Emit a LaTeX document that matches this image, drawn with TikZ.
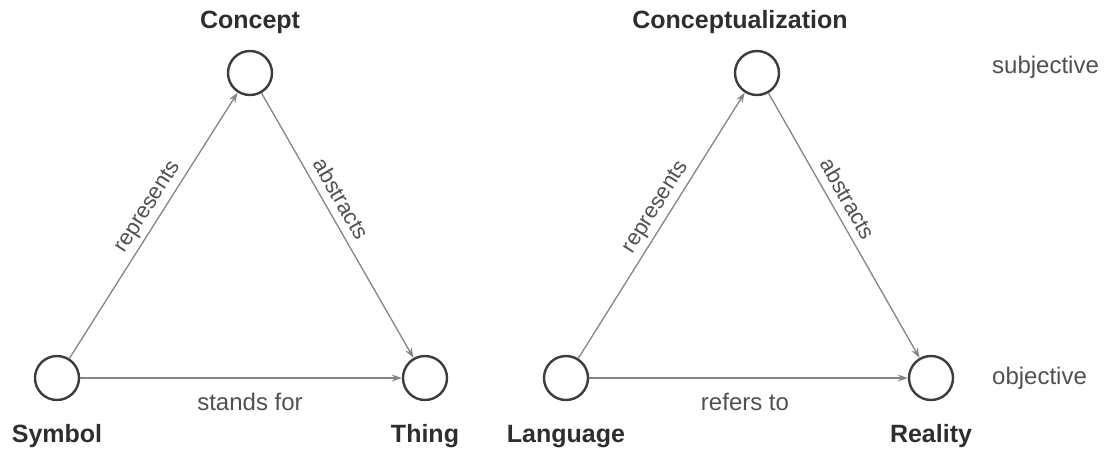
\documentclass[tikz,border=0pt]{standalone}
\usepackage{fontspec}
\setmainfont{Liberation Sans}
\usetikzlibrary{arrows.meta}
\definecolor{circcol}{HTML}{3C3C3C}
\definecolor{linecol}{HTML}{858585}
\definecolor{boldcol}{HTML}{2E2E2E}
\definecolor{txtcol}{HTML}{505050}
\tikzset{
  ball/.style={circle, draw=circcol, line width=2.4pt, minimum size=44pt, inner sep=0pt, fill=white},
  conn/.style={draw=linecol, line width=1.3pt, -{Stealth[length=10pt,width=7pt]}, shorten >=0pt},
  title/.style={font=\fontsize{25}{30}\selectfont\bfseries, text=boldcol, inner sep=0pt, anchor=base},
  plain/.style={font=\fontsize{24}{29}\selectfont, text=txtcol, inner sep=0pt, anchor=base},
  elab/.style={font=\fontsize{22}{26}\selectfont, text=txtcol, inner sep=3pt, sloped},
}
\begin{document}
\begin{tikzpicture}[x=1pt,y=-1pt]
\useasboundingbox (0,0) rectangle (1111,450);
% left triangle
\node[ball] (con) at (250,73) {};
\node[ball] (sym) at (57,378) {};
\node[ball] (thi) at (425,378) {};
\node[title] (conl) at (250,28) {Concept};
\node[title] (syml) at (57,442) {Symbol};
\node[title] (thil) at (425,442) {Thing};
\draw[conn] (sym) -- node[elab, above=1pt, pos=0.54] (rep1) {represents} (con);
\draw[conn] (con) -- node[elab, above=5pt, pos=0.43] (abs1) {abstracts} (thi);
\draw[conn] (sym) -- (thi);
\node[plain] (sf) at (250,410) {stands for};
% right triangle
\node[ball] (cz) at (757,73) {};
\node[ball] (lan) at (566,378) {};
\node[ball] (rea) at (931,378) {};
\node[title] (czl) at (740,28) {Conceptualization};
\node[title] (lanl) at (566,442) {Language};
\node[title] (real) at (931,442) {Reality};
\draw[conn] (lan) -- node[elab, above=1pt, pos=0.54] (rep2) {represents} (cz);
\draw[conn] (cz) -- node[elab, above=5pt, pos=0.43] (abs2) {abstracts} (rea);
\draw[conn] (lan) -- (rea);
\node[plain] (rt) at (745,410) {refers to};
% side labels
\node[plain, anchor=base west] (subj) at (992,73) {subjective};
\node[plain, anchor=base west] (obj) at (992,384) {objective};
\end{tikzpicture}
\end{document}
